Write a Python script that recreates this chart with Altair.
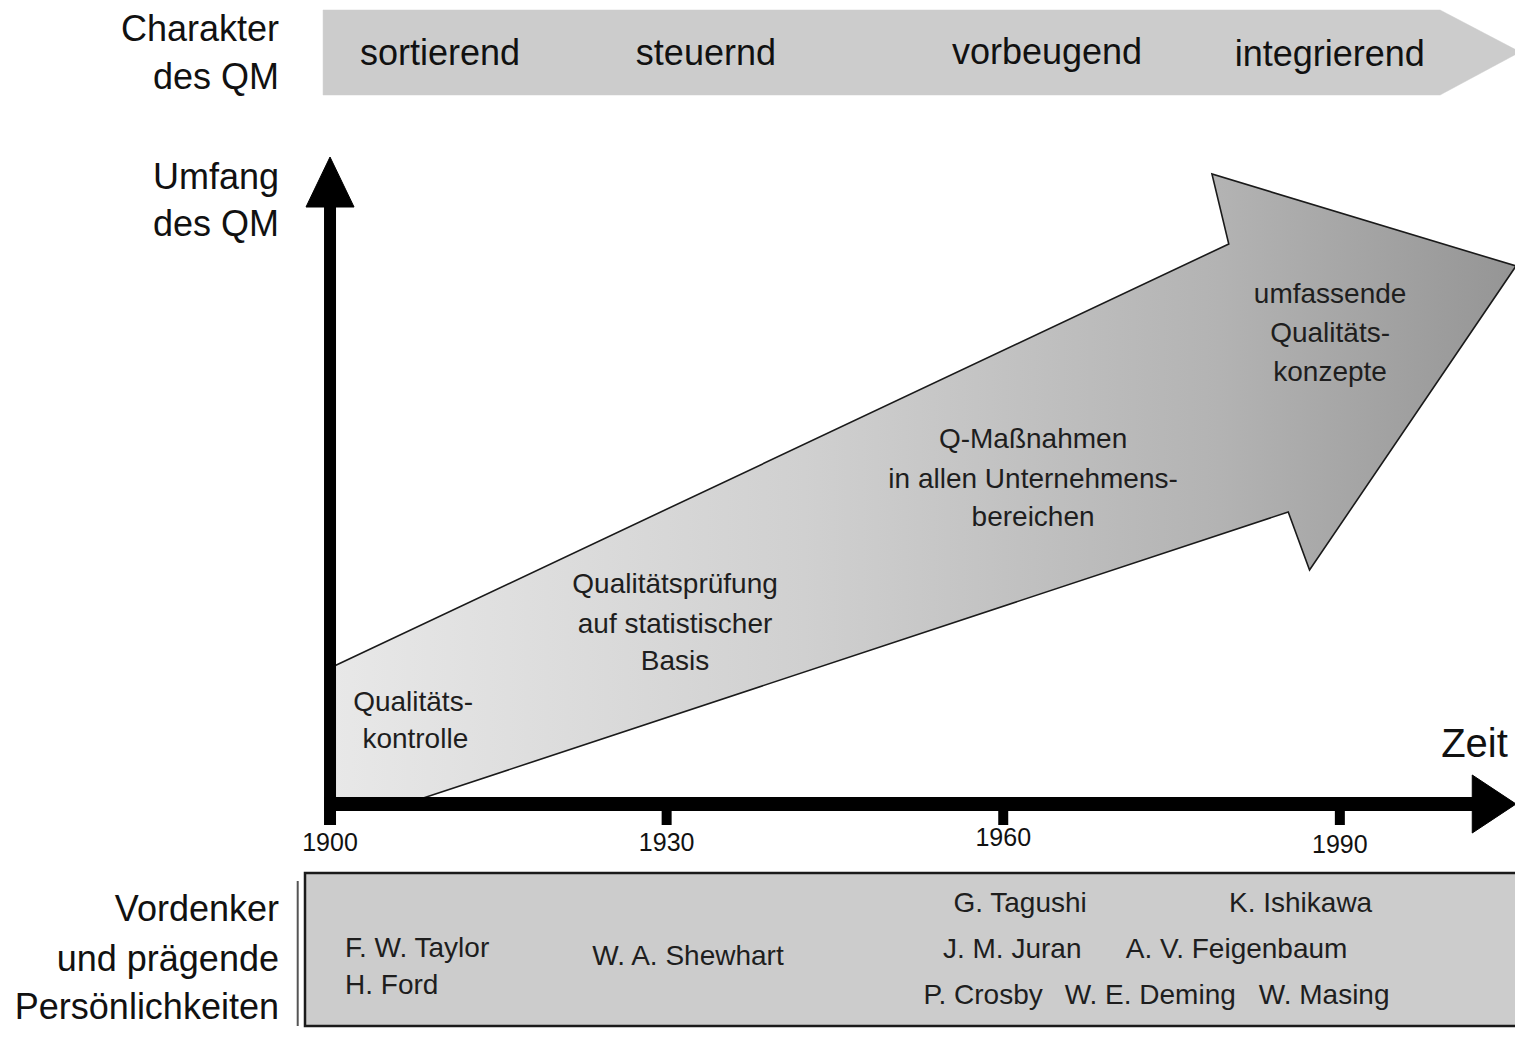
import altair as alt
import pandas as pd

# ------------------------------------------------------------------
# Data (x = year on the time axis, y = "Umfang des QM" level units)
# ------------------------------------------------------------------
YEARS = [1900, 1930, 1960, 1990]
YEAR_LABEL_LEVEL = [-3.9, -3.9, -3.4, -4.1]

CHARAKTER = ["sortierend", "steuernd", "vorbeugend", "integrierend"]
CHARAKTER_YEAR = [1909.8, 1933.5, 1963.9, 1989.1]
CHARAKTER_LEVEL = [75.0, 75.0, 75.1, 74.9]

SIDE_LABELS = ["Charakter", "des QM", "Umfang", "des QM",
               "Vordenker", "und prägende", "Persönlichkeiten"]
SIDE_LEVEL = [77.4, 72.6, 62.6, 57.9, -10.6, -15.6, -20.4]
SIDE_YEAR = 1895.45

STAGE_LINES = ["Qualitäts-", "kontrolle",
               "Qualitätsprüfung", "auf statistischer", "Basis",
               "Q-Maßnahmen", "in allen Unternehmens-", "bereichen",
               "umfassende", "Qualitäts-", "konzepte"]
STAGE_YEAR = [1907.4, 1907.6,
              1930.75, 1930.75, 1930.75,
              1962.66, 1962.66, 1962.66,
              1989.13, 1989.13, 1989.13]
STAGE_LEVEL = [10.1, 6.4,
               21.9, 17.9, 14.2,
               36.4, 32.4, 28.6,
               50.9, 47.0, 43.1]

NAMES_LEFT = ["F. W. Taylor", "H. Ford"]
NAMES_LEFT_YEAR = [1901.34, 1901.34]
NAMES_LEFT_LEVEL = [-14.5, -18.2]

NAMES = ["W. A. Shewhart", "G. Tagushi", "K. Ishikawa", "J. M. Juran",
         "A. V. Feigenbaum", "P. Crosby", "W. E. Deming", "W. Masing"]
NAMES_YEAR = [1931.9, 1961.5, 1986.5, 1960.8, 1980.8, 1958.2, 1973.1, 1988.6]
NAMES_LEVEL = [-15.3, -10.0, -10.0, -14.6, -14.6, -19.2, -19.2, -19.2]

# outline of the big development arrow
ARROW_YEAR = [1900.0, 1900.0, 1906.7, 1985.4, 1987.3, 2005.7, 1978.6, 1980.1, 1900.0]
ARROW_LEVEL = [13.6, 0.0, 0.0, 29.2, 23.4, 53.8, 63.0, 56.0, 13.6]

# top banner ("Charakter des QM")
BANNER_YEAR = [1899.38, 1998.93, 2006.06, 1998.93, 1899.38, 1899.38]
BANNER_LEVEL = [79.4, 79.4, 75.2, 70.9, 70.9, 79.4]

# axes
Y_AXIS_YEAR = 1900.0
Y_AXIS_FROM, Y_AXIS_TO = -2.1, 59.7
Y_HEAD_YEAR = [1897.86, 1902.14, 1900.0, 1897.86]
Y_HEAD_LEVEL = [59.7, 59.7, 64.7, 59.7]
X_AXIS_FROM, X_AXIS_TO = 1899.5, 2002.0
X_HEAD_YEAR = [2001.8, 2001.8, 2005.7, 2001.8]
X_HEAD_LEVEL = [2.9, -2.9, 0.0, 2.9]

# bottom box with persons
BOX_YEAR = [1897.77, 2006.15]
BOX_LEVEL = [-6.9, -22.2]

ZEIT = ("Zeit", 2002.0, 5.9)

# ------------------------------------------------------------------
FONT = "Liberation Sans, Arial, sans-serif"
XS = alt.Scale(domain=[1871.3, 2005.61], nice=False, zero=False)
YS = alt.Scale(domain=[-22.4, 79.6], nice=False, zero=False)


def X(f):
    return alt.X(f"{f}:Q", scale=XS, axis=None)


def Y(f):
    return alt.Y(f"{f}:Q", scale=YS, axis=None)


def polygon(xs, ys, **mark):
    df = pd.DataFrame({"x": xs, "y": ys, "i": list(range(len(xs)))})
    return alt.Chart(df).mark_line(interpolate="linear", **mark).encode(
        x=X("x"), y=Y("y"), order=alt.Order("i:Q"))


def texts(labels, xs, ys, size, align="center", color="#111111"):
    df = pd.DataFrame({"x": xs, "y": ys, "t": labels})
    return alt.Chart(df).mark_text(font=FONT, fontSize=size, align=align,
                                   baseline="middle", color=color).encode(
        x=X("x"), y=Y("y"), text="t:N")


gradient = {
    "gradient": "linear", "x1": 0, "y1": 0, "x2": 1, "y2": 0,
    "stops": [
        {"offset": 0.0, "color": "#e8e8e8"},
        {"offset": 0.4, "color": "#d0d0d0"},
        {"offset": 0.75, "color": "#b3b3b3"},
        {"offset": 1.0, "color": "#959595"},
    ],
}

layers = []

# banner
layers.append(polygon(BANNER_YEAR, BANNER_LEVEL, fill="#cccccc", stroke="#cccccc", strokeWidth=0.5))
layers.append(texts(CHARAKTER, CHARAKTER_YEAR, CHARAKTER_LEVEL, 36))

# big arrow
layers.append(polygon(ARROW_YEAR, ARROW_LEVEL, fill=gradient, stroke="#1a1a1a", strokeWidth=1.6))
layers.append(texts(STAGE_LINES, STAGE_YEAR, STAGE_LEVEL, 28, color="#1e1e1e"))

# bottom box
box_df = pd.DataFrame({"x": [BOX_YEAR[0]], "x2": [BOX_YEAR[1]],
                       "y": [BOX_LEVEL[0]], "y2": [BOX_LEVEL[1]]})
layers.append(alt.Chart(box_df).mark_rect(fill="#cccccc", stroke="#1a1a1a", strokeWidth=2.5).encode(
    x=X("x"), x2="x2:Q", y=Y("y"), y2="y2:Q"))
edge_df = pd.DataFrame({"x": [BOX_YEAR[0] - 0.65], "y": [BOX_LEVEL[0] - 0.8], "y2": [BOX_LEVEL[1]]})
layers.append(alt.Chart(edge_df).mark_rule(stroke="#555555", strokeWidth=2).encode(
    x=X("x"), y=Y("y"), y2="y2:Q"))
layers.append(texts(NAMES_LEFT, NAMES_LEFT_YEAR, NAMES_LEFT_LEVEL, 28, align="left", color="#1e1e1e"))
layers.append(texts(NAMES, NAMES_YEAR, NAMES_LEVEL, 28, color="#1e1e1e"))

# axes
yaxis_df = pd.DataFrame({"x": [Y_AXIS_YEAR], "y": [Y_AXIS_FROM], "y2": [Y_AXIS_TO]})
layers.append(alt.Chart(yaxis_df).mark_rule(stroke="black", strokeWidth=12, strokeCap="butt").encode(
    x=X("x"), y=Y("y"), y2="y2:Q"))
xaxis_df = pd.DataFrame({"x": [X_AXIS_FROM], "x2": [X_AXIS_TO], "y": [0.0]})
layers.append(alt.Chart(xaxis_df).mark_rule(stroke="black", strokeWidth=14, strokeCap="butt").encode(
    x=X("x"), x2="x2:Q", y=Y("y")))
tick_df = pd.DataFrame({"x": YEARS, "y": [0.0] * 4, "y2": [-2.1] * 4})
layers.append(alt.Chart(tick_df).mark_rule(stroke="black", strokeWidth=10, strokeCap="butt").encode(
    x=X("x"), y=Y("y"), y2="y2:Q"))
layers.append(polygon(Y_HEAD_YEAR, Y_HEAD_LEVEL, fill="black", stroke="black", strokeWidth=1))
layers.append(polygon(X_HEAD_YEAR, X_HEAD_LEVEL, fill="black", stroke="black", strokeWidth=1))
layers.append(texts([str(y) for y in YEARS], YEARS, YEAR_LABEL_LEVEL, 25))
layers.append(texts([ZEIT[0]], [ZEIT[1]], [ZEIT[2]], 40))

# side labels
layers.append(texts(SIDE_LABELS, [SIDE_YEAR] * len(SIDE_LABELS), SIDE_LEVEL, 36, align="right"))

chart = alt.layer(*layers).properties(
    width=1507, height=1020,
    autosize=alt.AutoSizeParams(type="none"),
    padding=0,
).configure_view(stroke=None)

chart.save("out.html", embed_options={"renderer": "svg", "actions": False})
